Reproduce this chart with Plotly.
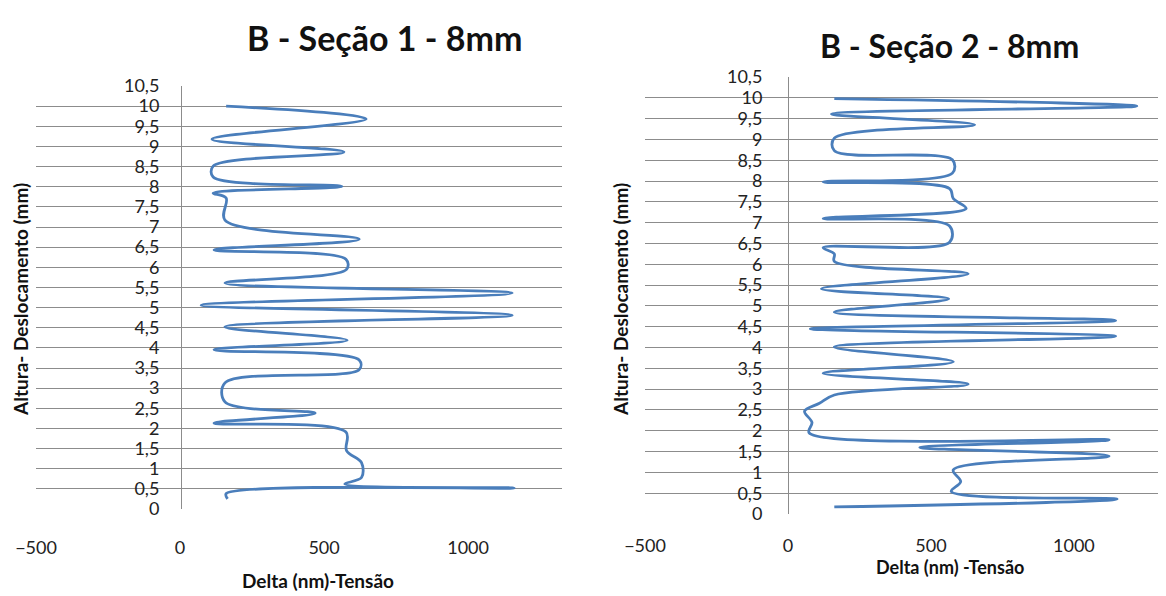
import plotly.graph_objects as go

# Secao 1 - delta (nm) vs altura (mm)
sec1_delta = [160, 646, 111, 569, 115, 115, 562, 115, 160, 156, 622, 118, 576, 578, 156,
              1153, 73, 1153, 156, 580, 118, 622, 622, 156, 156, 469, 118, 576, 578, 630,
              630, 572, 1160, 160, 165]
sec1_altura = [10.0, 9.68, 9.18, 8.86, 8.51, 8.24, 8.01, 7.84, 7.72, 7.17, 6.70, 6.43, 6.2, 5.95, 5.61,
               5.36, 5.06, 4.81, 4.52, 4.19, 3.95, 3.7, 3.46, 3.13, 2.66, 2.38, 2.13, 1.91, 1.45, 1.15,
               0.78, 0.62, 0.52, 0.38, 0.25]

# Secao 2
sec2_delta = [162, 1220, 152, 653, 162, 162, 575, 575, 123, 565, 578, 623, 123, 565, 565,
              123, 162, 162, 630, 117, 562, 162, 1146, 78, 1146, 162, 578, 123, 630, 162,
              110, 58, 84, 74, 1123, 461, 1123, 578, 604, 571, 1151, 162]
sec2_altura = [9.98, 9.80, 9.61, 9.35, 9.03, 8.73, 8.51, 8.19, 7.98, 7.82, 7.58, 7.34, 7.10, 6.92, 6.53,
               6.40, 6.25, 6.07, 5.77, 5.41, 5.17, 4.85, 4.65, 4.45, 4.27, 4.01, 3.66, 3.38, 3.12, 2.86,
               2.66, 2.47, 2.2, 1.95, 1.78, 1.60, 1.39, 1.06, 0.78, 0.54, 0.36, 0.17]

y_ticks = [i * 0.5 for i in range(22)]
y_tick_labels = ["0", "0,5", "1", "1,5", "2", "2,5", "3", "3,5", "4", "4,5", "5", "5,5",
                 "6", "6,5", "7", "7,5", "8", "8,5", "9", "9,5", "10", "10,5"]
x_ticks = [-500, 0, 500, 1000]

# page body has an 8px margin, so the figure is drawn slightly smaller and offset
OFF = 8
W, H = 1166 - OFF, 596 - OFF
line_col = "#4A7EBB"
grid_col = "#8C8C8C"
font = "Lato"


def fx(px):
    return (px - OFF) / W


def fy(py):
    return 1 - (py - OFF) / H


fig = go.Figure()
fig.add_trace(go.Scatter(x=sec1_delta, y=sec1_altura, mode="lines",
                         line=dict(color=line_col, width=2.8, shape="spline", smoothing=1),
                         xaxis="x", yaxis="y", showlegend=False))
fig.add_trace(go.Scatter(x=sec2_delta, y=sec2_altura, mode="lines",
                         line=dict(color=line_col, width=2.8, shape="spline", smoothing=1),
                         xaxis="x2", yaxis="y2", showlegend=False))

tickfont = dict(family=font, size=18, color="#222")


def xax(dom, rng, tl):
    return dict(domain=dom, range=rng, tickvals=x_ticks, showgrid=False, zeroline=False,
                showline=False, ticks="outside", ticklen=tl, tickcolor="rgba(0,0,0,0)",
                tickfont=tickfont, fixedrange=True, automargin=False)


def yax(dom, pos, standoff):
    return dict(domain=dom, range=[0, 10.5], tickvals=y_ticks, ticktext=y_tick_labels,
                anchor="free", position=pos, automargin=False,
                showgrid=True, gridcolor=grid_col, gridwidth=1, zeroline=False,
                showline=True, linecolor=grid_col, linewidth=1, ticks="",
                ticklabelstandoff=standoff, tickfont=tickfont)


fig.update_layout(
    width=W, height=H,
    margin=dict(l=0, r=0, t=0, b=0, autoexpand=False),
    paper_bgcolor="white", plot_bgcolor="white",
    xaxis=xax([fx(36), fx(562)], [-500, 1326], 22),
    yaxis=yax([fy(509), fy(86)], fx(181), 18),
    xaxis2=xax([fx(645), 1.0], [-500, 1322], 20),
    yaxis2=yax([fy(514), fy(77)], fx(788), 22),
)

ann = [
    dict(text="<b>B - Seção 1 - 8mm</b>", x=fx(384), y=fy(37), size=34),
    dict(text="<b>B - Seção 2 - 8mm</b>", x=fx(949), y=fy(45), size=32),
    dict(text="<b>Delta (nm)-Tensão</b>", x=fx(318), y=fy(580), size=19),
    dict(text="<b>Delta (nm) -Tensão</b>", x=fx(950), y=fy(567), size=18),
]
for a in ann:
    fig.add_annotation(text=a["text"], x=a["x"], y=a["y"], xref="paper", yref="paper",
                       showarrow=False, xanchor="center", yanchor="middle",
                       font=dict(family=font, size=a["size"], color="#111"))
for xpos in [fx(20), fx(620)]:
    fig.add_annotation(text="<b>Altura- Deslocamento (mm)</b>", x=xpos, y=fy(300),
                       xref="paper", yref="paper", showarrow=False, textangle=-90,
                       xanchor="center", yanchor="middle",
                       font=dict(family=font, size=19, color="#111"))

fig.write_html("out.html")
